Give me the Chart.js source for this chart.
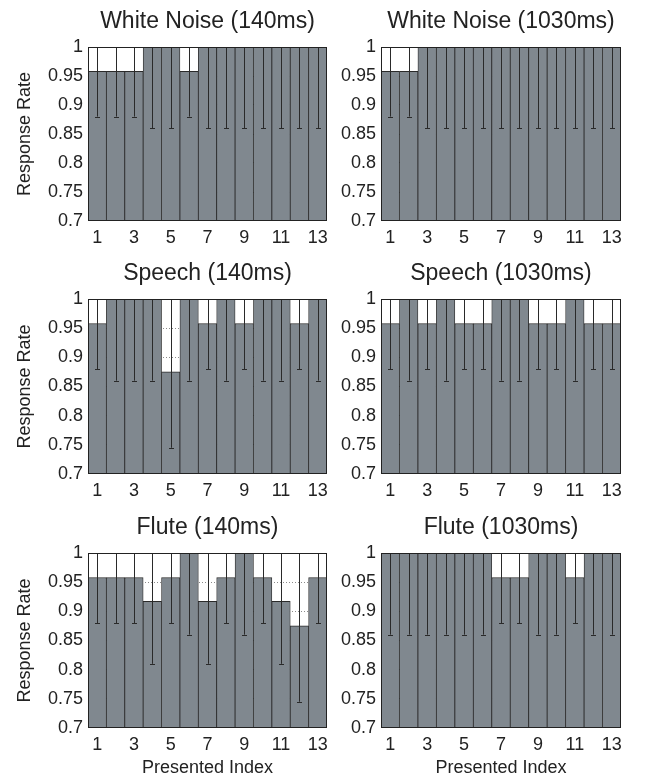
<!DOCTYPE html>
<html>
<head>
<meta charset="utf-8">
<script src="https://cdn.jsdelivr.net/npm/chart.js@4.4.1/dist/chart.umd.min.js"></script>
<style>
  body { margin: 0; background: #fff; width: 656px; height: 778px; position: relative; overflow: hidden; }
  canvas { position: absolute; }
</style>
</head>
<body>
<canvas id="c0"></canvas>
<canvas id="c1"></canvas>
<canvas id="c2"></canvas>
<canvas id="c3"></canvas>
<canvas id="c4"></canvas>
<canvas id="c5"></canvas>
<script>
// categories and tick labels
const categories = ['1', '2', '3', '4', '5', '6', '7', '8', '9', '10', '11', '12', '13'];
const xTickLabels = ['1', '3', '5', '7', '9', '11', '13'];
const yTickLabels = ['0.7', '0.75', '0.8', '0.85', '0.9', '0.95', '1'];

const titles = ['White Noise (140ms)', 'White Noise (1030ms)', 'Speech (140ms)', 'Speech (1030ms)', 'Flute (140ms)', 'Flute (1030ms)'];

// response rates
const whiteNoise140 = [0.958, 0.958, 0.958, 1, 1, 0.958, 1, 1, 1, 1, 1, 1, 1];
const whiteNoise1030 = [0.958, 0.958, 1, 1, 1, 1, 1, 1, 1, 1, 1, 1, 1];
const speech140 = [0.958, 1, 1, 1, 0.875, 1, 0.958, 1, 0.958, 1, 1, 0.958, 1];
const speech1030 = [0.958, 1, 0.958, 1, 0.958, 0.958, 1, 1, 0.958, 0.958, 1, 0.958, 0.958];
const flute140 = [0.958, 0.958, 0.958, 0.917, 0.958, 1, 0.917, 0.958, 1, 0.958, 0.917, 0.875, 0.958];
const flute1030 = [1, 1, 1, 1, 1, 1, 0.958, 0.958, 1, 1, 0.958, 1, 1];

// lower end of the error bars
const whiteNoise140Low = [0.88, 0.88, 0.88, 0.86, 0.86, 0.88, 0.86, 0.86, 0.86, 0.86, 0.86, 0.86, 0.86];
const whiteNoise1030Low = [0.88, 0.88, 0.86, 0.86, 0.86, 0.86, 0.86, 0.86, 0.86, 0.86, 0.86, 0.86, 0.86];
const speech140Low = [0.88, 0.86, 0.86, 0.86, 0.745, 0.86, 0.88, 0.86, 0.88, 0.86, 0.86, 0.88, 0.86];
const speech1030Low = [0.88, 0.86, 0.88, 0.86, 0.88, 0.88, 0.86, 0.86, 0.88, 0.88, 0.86, 0.88, 0.88];
const flute140Low = [0.88, 0.88, 0.88, 0.81, 0.88, 0.86, 0.81, 0.88, 0.86, 0.88, 0.81, 0.745, 0.88];
const flute1030Low = [0.86, 0.86, 0.86, 0.86, 0.86, 0.86, 0.88, 0.88, 0.86, 0.86, 0.88, 0.86, 0.86];

const FONT = "'Liberation Sans', Arial, Helvetica, sans-serif";
const TEXT = '#222';

// canvas placement and plot box for each column / row
const cols = [
  { left: 0, width: 330, plotLeft: 88, plotRight: 327 },
  { left: 330, width: 326, plotLeft: 381, plotRight: 621 },
];
const rows = [
  { top: 0, height: 250, plotTop: 47, plotBottom: 221 },
  { top: 250, height: 255, plotTop: 299, plotBottom: 474 },
  { top: 505, height: 273, plotTop: 553, plotBottom: 728 },
];

const panels = [
  { id: 'c0', title: titles[0], values: whiteNoise140, low: whiteNoise140Low, col: 0, row: 0 },
  { id: 'c1', title: titles[1], values: whiteNoise1030, low: whiteNoise1030Low, col: 1, row: 0 },
  { id: 'c2', title: titles[2], values: speech140, low: speech140Low, col: 0, row: 1 },
  { id: 'c3', title: titles[3], values: speech1030, low: speech1030Low, col: 1, row: 1 },
  { id: 'c4', title: titles[4], values: flute140, low: flute140Low, col: 0, row: 2 },
  { id: 'c5', title: titles[5], values: flute1030, low: flute1030Low, col: 1, row: 2 },
];

// error bars (symmetric, clipped at the top of the plot) + box frame
const errorBarsAndFrame = {
  id: 'errorBarsAndFrame',
  afterDatasetsDraw(chart, args, opts) {
    const { ctx, chartArea } = chart;
    const yScale = chart.scales.y;
    const meta = chart.getDatasetMeta(0);
    const low = opts.low;
    ctx.save();
    ctx.beginPath();
    ctx.rect(chartArea.left, chartArea.top, chartArea.right - chartArea.left, chartArea.bottom - chartArea.top);
    ctx.clip();
    ctx.strokeStyle = '#2a2a2a';
    ctx.lineWidth = 1;
    meta.data.forEach((bar, i) => {
      const v = chart.data.datasets[0].data[i];
      const yLow = yScale.getPixelForValue(low[i]);
      const yHigh = yScale.getPixelForValue(v + (v - low[i]));
      const x = Math.round(bar.x) + 0.5;
      ctx.beginPath();
      ctx.moveTo(x, yHigh);
      ctx.lineTo(x, yLow);
      ctx.moveTo(x - 2.5, Math.round(yLow) + 0.5);
      ctx.lineTo(x + 2.5, Math.round(yLow) + 0.5);
      ctx.stroke();
    });
    ctx.restore();

    ctx.save();
    ctx.strokeStyle = '#222';
    ctx.lineWidth = 1;
    ctx.strokeRect(Math.round(chartArea.left) + 0.5, Math.round(chartArea.top) + 0.5,
      Math.round(chartArea.right - chartArea.left) - 1, Math.round(chartArea.bottom - chartArea.top) - 1);
    ctx.restore();
  }
};

function makePanel(p) {
  const c = cols[p.col];
  const r = rows[p.row];
  const canvas = document.getElementById(p.id);
  canvas.width = c.width;
  canvas.height = r.height;
  canvas.style.left = c.left + 'px';
  canvas.style.top = r.top + 'px';

  const titleSize = 23;
  const titleGap = 11.5;
  const padTop = (r.plotTop - r.top) - titleSize * 1.2 - titleGap;
  const yAxisW = c.plotLeft - c.left;
  const xAxisH = (r.top + r.height) - r.plotBottom;
  const showYTitle = p.col === 0;
  const showXTitle = p.row === 2;

  new Chart(canvas, {
    type: 'bar',
    data: {
      labels: categories,
      datasets: [{
        data: p.values,
        backgroundColor: '#80888f',
        borderColor: '#2a2a2a',
        borderWidth: { top: 1, left: 0.8, right: 0.8, bottom: 0 },
        borderSkipped: false,
        barPercentage: 1,
        categoryPercentage: 1,
      }],
    },
    options: {
      responsive: false,
      animation: false,
      layout: { padding: { top: padTop, right: (c.left + c.width) - c.plotRight, left: 0, bottom: 0 } },
      scales: {
        x: {
          grid: { display: false },
          border: { display: false },
          ticks: {
            color: TEXT,
            font: { family: FONT, size: 18 },
            padding: -2,
            autoSkip: false,
            maxRotation: 0,
            callback: function (val, i) {
              const lab = categories[i];
              return xTickLabels.includes(lab) ? lab : '';
            },
          },
          title: {
            display: showXTitle,
            text: 'Presented Index',
            color: TEXT,
            font: { family: FONT, size: 18 },
            padding: { top: 0, bottom: -1 },
          },
          afterFit: (scale) => { scale.height = xAxisH; },
        },
        y: {
          min: 0.7,
          max: 1,
          ticks: {
            stepSize: 0.05,
            color: TEXT,
            font: { family: FONT, size: 18 },
            padding: 5,
            callback: (v) => yTickLabels.find((t) => Math.abs(Number(t) - v) < 1e-6) || '',
          },
          grid: {
            color: (ctx) => (ctx.tick && (ctx.tick.value <= 0.7001 || ctx.tick.value >= 0.9999)) ? 'rgba(0,0,0,0)' : '#8a8a8a',
            lineWidth: 1,
            drawTicks: false,
          },
          border: { display: false, dash: [1, 2] },
          title: {
            display: showYTitle,
            text: 'Response Rate',
            color: TEXT,
            font: { family: FONT, size: 18 },
            padding: { top: 14, bottom: 0 },
          },
          afterFit: (scale) => { scale.width = yAxisW; },
        },
      },
      plugins: {
        legend: { display: false },
        tooltip: { enabled: false },
        title: {
          display: true,
          fullSize: false,
          text: p.title,
          color: TEXT,
          font: { family: FONT, size: titleSize, weight: 'normal' },
          padding: { top: 0, bottom: titleGap },
        },
        errorBarsAndFrame: { low: p.low },
      },
    },
    plugins: [errorBarsAndFrame],
  });
}

panels.forEach(makePanel);
</script>
</body>
</html>
